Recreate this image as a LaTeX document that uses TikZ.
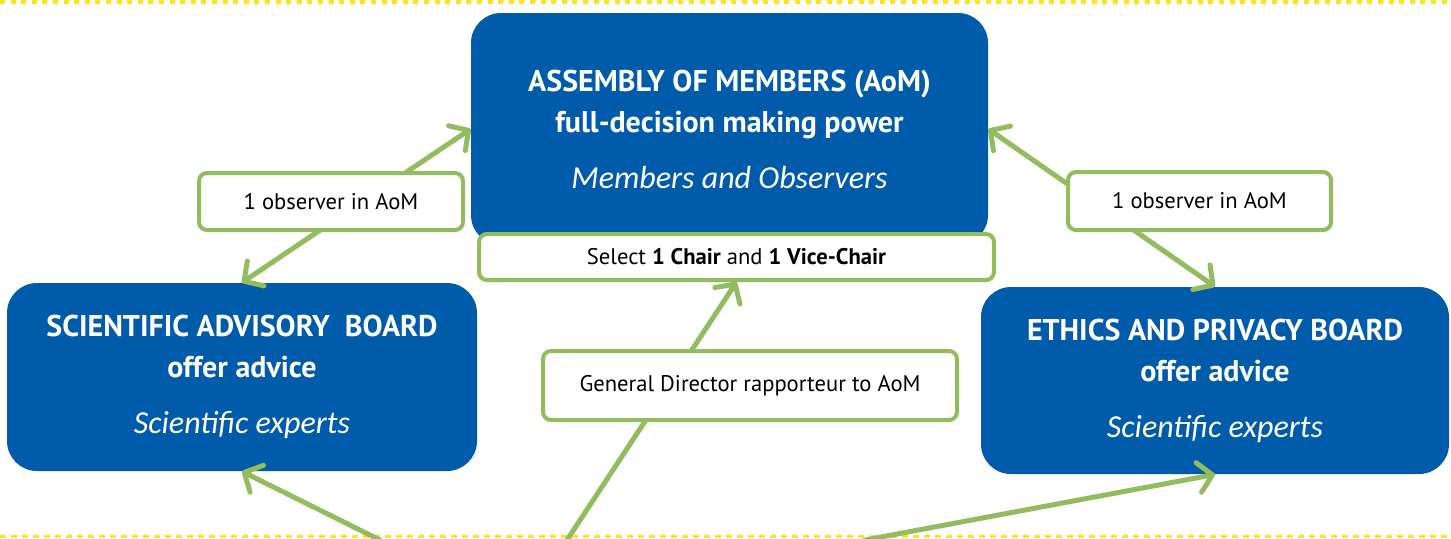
\documentclass[tikz,border=0pt]{standalone}
\usepackage{fontspec}
\setmainfont{PT Sans}
\newfontfamily\itfont{Carlito}
\usetikzlibrary{arrows.meta}
\definecolor{boardblue}{HTML}{005BAA}
\definecolor{linkgreen}{HTML}{92BC5E}
\definecolor{lineyellow}{HTML}{FFE31B}
\begin{document}
\begin{tikzpicture}[
    x=0.5pt, y=-0.5pt,
    board/.style={rectangle, fill=boardblue, text=white, rounded corners=15pt, align=center, inner sep=0pt, font=\fontsize{15}{17}\selectfont\bfseries},
    note/.style={rectangle, draw=linkgreen, line width=2pt, fill=white, rounded corners=4pt, align=center, inner sep=0pt, font=\fontsize{11.3}{13}\selectfont},
    link/.style={draw=linkgreen, line width=2.5pt, line cap=round},
    >={Straight Barb[length=7pt, width=15pt, round]},
    rule/.style={draw=lineyellow, line width=#1}
]
    \useasboundingbox (0,0) rectangle (1451,538);
    % Bandes jaunes
    \draw[rule=2pt, dash pattern=on 2.5pt off 2.8pt] (0,2) -- (1451,2);
    \draw[rule=1.5pt, dash pattern=on 3pt off 2.5pt] (0,536.5) -- (1451,536.5);

    % Organes
    \node[board, minimum width=258.5pt, minimum height=116pt] (aom) at (729.5,129)
        {ASSEMBLY OF MEMBERS (AoM)\\[3.5pt] full-decision making power\\[11pt]
         \mdseries\itfont\itshape\fontsize{16}{19}\selectfont Members and Observers};
    \node[board, minimum width=235pt, minimum height=94pt] (sab) at (242,377)
        {SCIENTIFIC ADVISORY~ BOARD\\[3.5pt] offer advice\\[11pt]
         \mdseries\itfont\itshape\fontsize{16}{19}\selectfont Scientific experts};
    \node[board, minimum width=234pt, minimum height=93.5pt] (epb) at (1215,380.5)
        {ETHICS AND PRIVACY BOARD\\[3.5pt] offer advice\\[11pt]
         \mdseries\itfont\itshape\fontsize{16}{19}\selectfont Scientific experts};
    \node[note, minimum width=257.5pt, minimum height=23pt] (sel) at (736.5,257)
        {Select \textbf{1 Chair} and \textbf{1 Vice-Chair}};

    % Liaisons
    \coordinate (sabfoot) at (380,540);
    \coordinate (gdfoot) at (567,540);
    \coordinate (epbfoot) at (865,540);
    \draw[link, <->] (sab.north) -- (aom.west);
    \draw[link, <->] (aom.east) -- (epb.north);
    \draw[link, ->] (gdfoot) -- (sel.south);
    \draw[link, ->] (sabfoot) -- (sab.south);
    \draw[link, ->] (epbfoot) -- (epb.south);

    % Rôles
    \node[note, minimum width=132pt, minimum height=28.5pt] (obsL) at (331,201.5) {1 observer in AoM};
    \node[note, minimum width=131.5pt, minimum height=29pt] (obsR) at (1199.5,201) {1 observer in AoM};
    \node[note, minimum width=207pt, minimum height=34.5pt] (gd) at (750,385.5) {General Director rapporteur to AoM};
\end{tikzpicture}
\end{document}
